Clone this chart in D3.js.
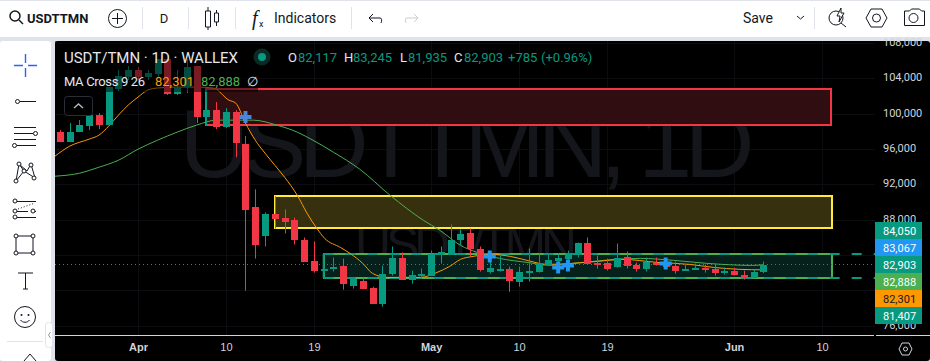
<!DOCTYPE html>
<html>
<head>
<meta charset="utf-8">
<script src="https://d3js.org/d3.v7.min.js"></script>
<style>
html, body { margin: 0; padding: 0; background: #e0e3eb; overflow: hidden; }
svg { display: block; font-family: Roboto, "Liberation Sans", sans-serif; }
.axis path.domain { display: none; }
.axis .tick line { display: none; }
.icon { fill: none; stroke: #131722; stroke-width: 1; }
.toolText { fill: #131722; font-size: 14px; }
.legend { font-size: 12px; }
</style>
</head>
<body>
<div id="chart"></div>
<script>
// day 0 = Apr 1
const days = [-8,-7,-6,-5,-4,-3,-2,-1,0,1,2,3,4,5,6,7,8,9,10,11,12,13,14,15,16,17,18,19,20,21,22,23,24,25,26,27,28,29,30,31,32,33,34,35,36,37,38,39,40,41,42,43,44,45,46,47,48,49,50,51,52,53,54,55,56,57,58,59,60,61,62,63,64];
const opens = [97900,96770,97900,98590,99830,98700,102790,104150,104950,104150,104490,106200,102220,103020,105400,99610,100400,98470,100180,96540,89380,86080,88580,88130,87900,85740,83360,82220,82560,82790,80520,81080,80290,78470,81880,83700,81200,81650,81650,84040,84040,85630,86430,84720,82110,82330,82450,80970,82110,82110,82900,83360,83580,84040,85400,83130,83130,82680,83810,82900,82450,83130,83130,82790,82220,82330,82560,82450,82110,82220,81770,81430,82117];
const highs = [98130,98930,99270,100060,100060,103020,104950,105400,105290,104950,106200,106200,104950,106200,105400,102680,101310,100630,100400,97450,91430,88810,90630,89150,88240,85970,85520,82660,83700,83580,81310,81430,80400,82790,84950,84270,82220,82450,84490,84950,87450,86880,86990,84950,83240,83930,82680,82680,84720,84150,84040,84150,84490,85400,85970,83930,83580,85290,84380,83130,83700,83700,83470,83240,82900,83020,82900,82900,82560,82560,82220,82330,83245];
const lows = [96770,96770,97900,98130,98240,98700,102560,103810,103810,103810,104150,102110,102110,102330,98930,98590,98240,98360,95060,79950,83580,84950,86990,86430,85180,83240,81990,81990,82110,80060,80180,80180,78470,78130,81650,81200,80740,81310,81650,83020,84040,85060,83810,82110,81880,82110,79830,80400,80970,81990,82790,83240,83470,83700,82900,82450,82220,82560,82450,82110,82110,82790,82560,81880,82220,82330,81990,81650,81770,81650,81200,81310,81935];
const closes = [96770,97900,98700,99830,98700,103020,104270,104950,104150,104610,106200,102220,103020,105290,99610,100400,98470,100180,96650,89040,85060,88580,88020,87680,85630,83240,82220,82450,82680,80740,81310,80180,78470,81880,83700,81200,81770,81880,84150,84270,85740,86310,84610,82330,82560,82450,81080,82110,82220,83130,83470,83700,84150,85400,83020,83020,82450,83700,82790,82450,83240,83020,82680,82220,82450,82560,82450,81990,82220,81770,81430,82110,82903];

const ma9Days = [-8.5,-7,-5,-4,-3,-2,-1,0,1,2,4,6,7.7,9.3,10,11,12,13,14,15,16.3,17.3,18.3,19.1,20.7,21.7,23,24,25.5,26.8,28.9,30.6,31.9,33,34.3,36,38.1,39.8,41.9,44.5,47,49.6,53.1,56.5,58.9,61.6,64];
const ma9Values = [95180,96310,97110,97560,98580,99830,100970,101870,102670,102900,103010,103010,102900,101530,101190,98920,96990,95520,94160,92800,90750,88710,87010,85870,84850,84170,83040,81900,81450,81450,81450,82010,82700,83490,83830,84060,83830,83380,82920,83040,83260,83490,83150,82920,82580,82360,82301];
const ma26Days = [-8.5,-6,-4,-2,0,2,4,6,8,11.8,14.2,16.3,17.9,20,22.7,25.8,29.2,30.9,33,34.7,37,39.8,42.2,44.5,51.4,54.8,58.2,62.9,64];
const ma26Values = [92910,93250,93930,94720,95970,96990,97900,98700,99260,99260,98700,97900,96990,95630,93700,90750,87920,86780,85080,84280,83600,83150,82810,83040,83600,83380,83040,82810,82888];

const crossDays = [11,36,43,44,54];
const crossPrices = [99610,83810,82560,82790,83020];

const priceTicks = [76000,80000,84000,88000,92000,96000,100000,104000,108000];
// 80,000 and 84,000 sit fully behind the price tags
const priceLabels = [76000,88000,92000,96000,100000,104000,108000];
const dayTicks = [0,9,18,30,39,48,61,70];
const dayLabels = ['Apr','10','19','May','10','19','Jun','10'];
const boldLabels = ['Apr','May','Jun'];

const zoneNames = ['red','yellow','green'];
const zoneStart = [7,14,19];
const zoneEnd = [71,71,71];
const zoneTop = [102780,90640,84050];
const zoneBottom = [98700,87000,81407];
const zoneStroke = ['#f23645','#ffeb3b','#4caf50'];
const zoneFill = ['#300d10','#37300f','#06201c'];

const lastPrice = 82903;
const rayPrices = [84050,81407];
const tagValues = [84050,83067,82903,82888,82301,81407];
const tagColors = ['#089981','#2196f3','#089981','#4caf50','#ff9800','#089981'];
const tagText = ['#fff','#fff','#fff','#fff','#131722','#fff'];

const UP = '#089981';
const DOWN = '#f23645';
const WIDTH = 930;
const HEIGHT = 361;
const PANE = {left: 55, top: 41, right: 875, bottom: 335};

const fmt = d3.format(',');
const xScale = d3.scaleLinear().domain([0, 70]).range([138, 822]);
const yScale = d3.scaleLinear().domain([76000, 108000]).range([325.5, 43]);

const svg = d3.select('#chart').append('svg')
    .attr('width', WIDTH)
    .attr('height', HEIGHT);

const addText = function (g, x, y, text, color, size, anchor, weight) {
    return g.append('text')
        .attr('x', x)
        .attr('y', y)
        .attr('fill', color)
        .attr('font-size', size)
        .attr('text-anchor', anchor || 'start')
        .attr('font-weight', weight || 400)
        .text(text);
};

const drawFrame = function () {
    svg.append('rect').attr('width', WIDTH).attr('height', HEIGHT).attr('fill', '#e0e3eb');
    svg.append('rect').attr('y', 1).attr('width', WIDTH).attr('height', 36).attr('fill', '#fff');
    svg.append('rect').attr('y', 41).attr('width', 51).attr('height', 320).attr('rx', 3).attr('fill', '#fff');
    svg.append('rect').attr('x', 55).attr('y', 41).attr('width', 875).attr('height', 320).attr('rx', 3).attr('fill', '#000');
    svg.append('clipPath').attr('id', 'pane').append('rect')
        .attr('x', PANE.left).attr('y', PANE.top)
        .attr('width', PANE.right - PANE.left).attr('height', PANE.bottom - PANE.top);
};

const drawGrid = function (g) {
    g.selectAll('.gx').data(dayTicks).enter().append('line')
        .attr('x1', d => Math.round(xScale(d)) + 0.5)
        .attr('x2', d => Math.round(xScale(d)) + 0.5)
        .attr('y1', PANE.top).attr('y2', PANE.bottom)
        .attr('stroke', '#0c0d11');
    g.selectAll('.gy').data(priceTicks).enter().append('line')
        .attr('x1', PANE.left).attr('x2', PANE.right)
        .attr('y1', d => Math.round(yScale(d)) + 0.5)
        .attr('y2', d => Math.round(yScale(d)) + 0.5)
        .attr('stroke', '#0c0d11');
};

const drawWatermark = function (g) {
    g.append('text').attr('x', 467).attr('y', 177)
        .attr('text-anchor', 'middle').attr('font-size', 97).attr('fill', '#15161b')
        .attr('font-family', '"Liberation Sans"')
        .attr('textLength', 575).text('USDTTMN, 1D');
    g.append('text').attr('x', 466).attr('y', 262)
        .attr('text-anchor', 'middle').attr('font-size', 50).attr('fill', '#15161b')
        .attr('font-family', '"Liberation Sans"')
        .attr('textLength', 222).text('USDT/TMN');
};

const drawZones = function (g) {
    zoneNames.forEach((name, i) => {
        g.append('rect')
            .attr('class', 'zone-' + name)
            .attr('x', Math.round(xScale(zoneStart[i])))
            .attr('y', Math.round(yScale(zoneTop[i])))
            .attr('width', Math.round(xScale(zoneEnd[i]) - xScale(zoneStart[i])))
            .attr('height', Math.round(yScale(zoneBottom[i])) - Math.round(yScale(zoneTop[i])))
            .attr('fill', zoneFill[i])
            .attr('stroke', zoneStroke[i])
            .attr('stroke-width', 2);
    });
};

const drawRays = function (g) {
    g.selectAll('.ray').data(rayPrices).enter().append('line')
        .attr('x1', xScale(19)).attr('x2', PANE.right)
        .attr('y1', d => Math.round(yScale(d)))
        .attr('y2', d => Math.round(yScale(d)))
        .attr('stroke', UP).attr('stroke-width', 2)
        .attr('stroke-dasharray', '10 12');
    g.append('line')
        .attr('x1', xScale(19)).attr('x2', xScale(19))
        .attr('y1', Math.round(yScale(rayPrices[0]))).attr('y2', Math.round(yScale(rayPrices[1])))
        .attr('stroke', UP).attr('stroke-width', 2);
    g.append('line')
        .attr('x1', PANE.left).attr('x2', PANE.right)
        .attr('y1', Math.floor(yScale(lastPrice)) + 0.5)
        .attr('y2', Math.floor(yScale(lastPrice)) + 0.5)
        .attr('stroke', UP).attr('stroke-dasharray', '1 3');
};

const drawMa = function (g, xs, ys, color) {
    const line = d3.line()
        .x(d => xScale(d))
        .y((d, i) => yScale(ys[i]))
        .curve(d3.curveMonotoneX);
    g.append('path')
        .attr('d', line(xs))
        .attr('fill', 'none')
        .attr('stroke', color)
        .attr('stroke-width', 1);
};

const drawCandles = function (g) {
    const color = i => (closes[i] >= opens[i] ? UP : DOWN);
    const candles = g.selectAll('.candle').data(days).enter().append('g').attr('class', 'candle');
    candles.append('line')
        .attr('x1', d => Math.round(xScale(d)) + 0.5)
        .attr('x2', d => Math.round(xScale(d)) + 0.5)
        .attr('y1', (d, i) => yScale(highs[i]))
        .attr('y2', (d, i) => yScale(lows[i]))
        .attr('stroke', (d, i) => color(i));
    candles.append('rect')
        .attr('x', d => Math.round(xScale(d)) - 3)
        .attr('width', 7)
        .attr('y', (d, i) => Math.round(yScale(Math.max(opens[i], closes[i]))))
        .attr('height', (d, i) => Math.max(2, Math.round(Math.abs(yScale(opens[i]) - yScale(closes[i])))))
        .attr('fill', (d, i) => color(i));
};

const drawCrosses = function (g) {
    g.selectAll('.cross').data(crossDays).enter().append('path')
        .attr('d', d3.symbol().type(d3.symbolCross).size(80))
        .attr('transform', (d, i) => `translate(${xScale(d)},${yScale(crossPrices[i])})`)
        .attr('fill', (d, i) => (i === 0 ? '#4a86d8' : '#2196f3'));
};

const drawLegend = function () {
    const g = svg.append('g').attr('class', 'legend');
    // legend backdrop darkens what is under it
    g.append('rect').attr('x', PANE.left).attr('y', PANE.top).attr('width', 203).attr('height', 51)
        .attr('fill', '#000').attr('opacity', 0.5);
    addText(g, 64, 63, 'USDT/TMN · 1D · WALLEX', '#e6e8ee', 15).attr('textLength', 174);
    g.append('circle').attr('cx', 262).attr('cy', 57).attr('r', 8.5).attr('fill', '#0b2a26');
    g.append('circle').attr('cx', 262).attr('cy', 57).attr('r', 4).attr('fill', UP);
    const row = [[288,'O','#e6e8ee'],[298,fmt(opens[72]),UP],[344,'H','#e6e8ee'],[353,fmt(highs[72]),UP],
        [400,'L','#e6e8ee'],[408,fmt(lows[72]),UP],[454,'C','#e6e8ee'],[464,fmt(closes[72]),UP],[508,'+785',UP],[541,'(+0.96%)',UP]];
    row.forEach(d => addText(g, d[0], 62, d[1], d[2], 13));
    addText(g, 64, 86, 'MA Cross 9 26', '#e6e8ee', 13).attr('textLength', 81);
    addText(g, 155, 86, fmt(82301), '#ff9800', 13);
    addText(g, 201, 86, fmt(82888), '#4caf50', 13);
    addText(g, 247, 86, '∅', '#e6e8ee', 13);
    g.append('rect').attr('x', 64.5).attr('y', 96.5).attr('width', 28).attr('height', 19).attr('rx', 3)
        .attr('fill', '#000').attr('stroke', '#2a2e39');
    g.append('path').attr('d', 'M74 108l4.5-4 4.5 4').attr('fill', 'none').attr('stroke', '#b2b5be').attr('stroke-width', 1.5);
};

const drawAxes = function () {
    const yAxis = d3.axisRight(yScale)
        .tickValues(priceLabels)
        .tickFormat(fmt)
        .tickSize(0)
        .tickPadding(8);
    const yg = svg.append('g')
        .attr('class', 'axis')
        .attr('transform', `translate(${PANE.right},-1)`)
        .call(yAxis);
    yg.selectAll('text').attr('fill', '#d1d4dc').attr('font-size', 11).attr('font-family', 'Roboto');

    const xAxis = d3.axisBottom(xScale)
        .tickValues(dayTicks)
        .tickFormat((d, i) => dayLabels[i])
        .tickSize(0)
        .tickPadding(8);
    const xg = svg.append('g')
        .attr('class', 'axis')
        .attr('transform', `translate(0,${PANE.bottom})`)
        .call(xAxis);
    xg.selectAll('text')
        .attr('fill', '#d1d4dc')
        .attr('font-size', 11)
        .attr('font-weight', (d, i) => (boldLabels.includes(dayLabels[i]) ? 700 : 400));

    svg.append('line').attr('x1', PANE.left).attr('x2', PANE.right - 1)
        .attr('y1', PANE.bottom + 0.5).attr('y2', PANE.bottom + 0.5).attr('stroke', '#d1d4dc');
    svg.append('line').attr('x1', PANE.right + 1).attr('x2', WIDTH)
        .attr('y1', PANE.bottom + 0.5).attr('y2', PANE.bottom + 0.5).attr('stroke', '#d1d4dc');
    svg.append('path').attr('d', 'M899 349l3-6h7l3 6-3 6h-7z').attr('fill', 'none').attr('stroke', '#d1d4dc');
    svg.append('circle').attr('cx', 905.5).attr('cy', 349).attr('r', 2).attr('fill', 'none').attr('stroke', '#d1d4dc');
};

const drawTags = function () {
    const tags = svg.selectAll('.tag').data(tagValues).enter().append('g')
        .attr('class', 'tag')
        .attr('transform', (d, i) => `translate(${PANE.right},${222 + i * 17})`);
    tags.append('rect').attr('width', 47).attr('height', 17).attr('fill', (d, i) => tagColors[i]);
    tags.append('text').attr('x', 8).attr('y', 12.5).attr('font-size', 11)
        .attr('fill', (d, i) => tagText[i]).text(d => fmt(d));
};

const drawTopBar = function () {
    const g = svg.append('g');
    g.append('circle').attr('class', 'icon').attr('cx', 15).attr('cy', 16).attr('r', 5).style('stroke-width', 1.5);
    g.append('path').attr('class', 'icon').attr('d', 'M19 20l4 4').style('stroke-width', 1.5);
    addText(g, 27, 23, 'USDTTMN', '#131722', 13, 'start', 700);
    g.append('circle').attr('class', 'icon').attr('cx', 117.5).attr('cy', 18.5).attr('r', 9);
    g.append('path').attr('class', 'icon').attr('d', 'M117.5 13v11M112 18.5h11');
    [142, 188, 235, 351, 814].forEach(x => {
        g.append('line').attr('x1', x + 0.5).attr('x2', x + 0.5).attr('y1', 7).attr('y2', 29).attr('stroke', '#e0e3eb');
    });
    addText(g, 164, 23, 'D', '#131722', 13, 'middle');
    g.append('path').attr('class', 'icon').attr('d', 'M205.5 11h5v16h-5zM208 7v4M208 27v3M214.5 13h4v9h-4zM216.5 10v3M216.5 22v4');
    addText(g, 252, 25, 'f', '#131722', 20).attr('font-family', '"Liberation Serif"').attr('font-style', 'italic');
    addText(g, 259, 27, 'x', '#131722', 9);
    addText(g, 274, 23, 'Indicators', '#131722', 14);
    g.append('path').attr('class', 'icon').attr('d', 'M369 18h11c2 0 2 3 1 5M369 18l4-4M369 18l4 4');
    g.append('path').attr('class', 'icon').attr('d', 'M418 18h-11c-2 0-2 3-1 5M418 18l-4-4M418 18l-4 4').style('stroke', '#c9cbd1');
    addText(g, 743, 23, 'Save', '#131722', 14);
    g.append('path').attr('class', 'icon').attr('d', 'M797 16l3.5 3 3.5-3');
    g.append('circle').attr('class', 'icon').attr('cx', 836).attr('cy', 18).attr('r', 7);
    g.append('path').attr('class', 'icon').attr('d', 'M841 23l5 4');
    g.append('path').attr('d', 'M841 8l-4 8h3l-1 6 5-9h-3z').attr('fill', '#fff').attr('stroke', '#131722');
    g.append('path').attr('class', 'icon').attr('d', 'M866 18l5-9h11l5 9-5 9h-11z');
    g.append('circle').attr('class', 'icon').attr('cx', 876.5).attr('cy', 18).attr('r', 4);
    g.append('path').attr('class', 'icon').attr('d', 'M904.5 11h5l2-2h8l2 2h3v14.5h-20z');
    g.append('circle').attr('class', 'icon').attr('cx', 913.5).attr('cy', 18).attr('r', 4.5);
};

const drawToolBar = function () {
    const g = svg.append('g');
    g.append('path').attr('d', 'M25.5 54v9M25.5 68v9M14 65.5h9M28 65.5h9').attr('stroke', '#2962ff').attr('stroke-width', 1.4).attr('fill', 'none');
    g.append('circle').attr('class', 'icon').attr('cx', 17.5).attr('cy', 101.5).attr('r', 2);
    g.append('path').attr('class', 'icon').attr('d', 'M20 101.5h16');
    g.append('path').attr('class', 'icon').attr('d', 'M14 127.5h22M14 133.5h19M14 139.5h22M17 145.5h19');
    g.append('circle').attr('class', 'icon').attr('cx', 35.5).attr('cy', 133.5).attr('r', 2);
    g.append('circle').attr('class', 'icon').attr('cx', 14.5).attr('cy', 145.5).attr('r', 2);
    g.append('path').attr('class', 'icon').attr('d', 'M19 164l-3 17 8-10zM19 164l8 7 4-7M24 171l11 7-4-14');
    [[19,164],[31,165],[24,171],[16,181],[34,178]].forEach(d => {
        g.append('circle').attr('class', 'icon').attr('cx', d[0]).attr('cy', d[1]).attr('r', 2).style('fill', '#fff');
    });
    g.append('path').attr('class', 'icon').attr('d', 'M17 201.5h19M17 211.5h11M36 211.5h-2M17 217.5h19');
    g.append('path').attr('d', 'M18 209l17-6').attr('stroke', '#131722').attr('stroke-dasharray', '1 2');
    [[15,201],[15,211],[33,211],[15,217]].forEach(d => {
        g.append('circle').attr('class', 'icon').attr('cx', d[0]).attr('cy', d[1]).attr('r', 2).style('fill', '#fff');
    });
    g.append('rect').attr('class', 'icon').attr('x', 16).attr('y', 236).attr('width', 17).attr('height', 17);
    [[16,236],[33,236],[16,253],[33,253]].forEach(d => {
        g.append('circle').attr('class', 'icon').attr('cx', d[0]).attr('cy', d[1]).attr('r', 2).style('fill', '#fff');
    });
    g.append('path').attr('class', 'icon').attr('d', 'M18 273h15M25.5 273v16M23 289h5');
    g.append('circle').attr('class', 'icon').attr('cx', 25).attr('cy', 317).attr('r', 10.5);
    g.append('path').attr('class', 'icon').attr('d', 'M20.5 320c2 3 7 3 9 0');
    g.append('circle').attr('cx', 21.5).attr('cy', 315).attr('r', 1).attr('fill', '#131722');
    g.append('circle').attr('cx', 28.5).attr('cy', 315).attr('r', 1).attr('fill', '#131722');
    g.append('line').attr('x1', 7).attr('x2', 43).attr('y1', 341.5).attr('y2', 341.5).attr('stroke', '#e0e3eb');
    g.append('path').attr('class', 'icon').attr('d', 'M24 361l6-7 6 7');
    g.append('rect').attr('x', 45.5).attr('y', 322.5).attr('width', 7).attr('height', 25).attr('rx', 3)
        .attr('fill', '#fff').attr('stroke', '#e0e3eb');
    g.append('path').attr('d', 'M50.5 332l-2 3 2 3').attr('fill', 'none').attr('stroke', '#9598a1');
};

const loadChart = function () {
    drawFrame();
    const pane = svg.append('g').attr('clip-path', 'url(#pane)');
    drawGrid(pane);
    drawWatermark(pane);
    drawZones(pane);
    drawRays(pane);
    drawMa(pane, ma26Days, ma26Values, '#4caf50');
    drawMa(pane, ma9Days, ma9Values, '#ff9800');
    drawCandles(pane);
    drawCrosses(pane);
    drawLegend();
    drawAxes();
    drawTags();
    drawTopBar();
    drawToolBar();
};

window.onload = loadChart;
</script>
</body>
</html>
